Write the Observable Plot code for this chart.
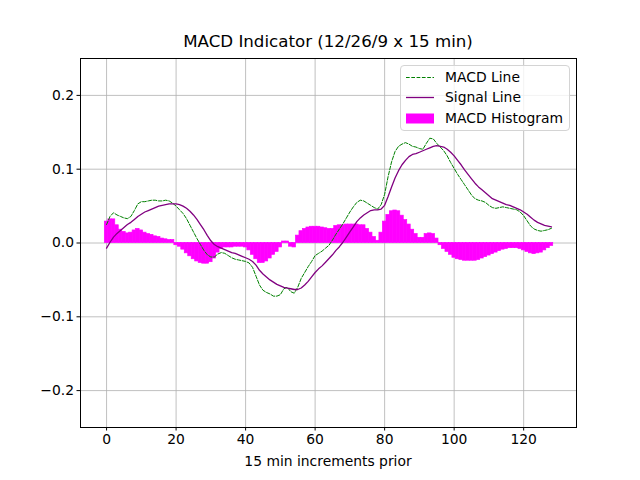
<!DOCTYPE html>
<html><head><meta charset="utf-8">
<script src="https://cdn.jsdelivr.net/npm/d3@7"></script>
<script src="https://cdn.jsdelivr.net/npm/@observablehq/plot@0.6"></script>
<style>
body{margin:0;background:#fff;font-family:"DejaVu Sans",sans-serif;}
#wrap{position:relative;width:640px;height:480px;}
#title{position:absolute;top:32px;left:80px;width:496px;text-align:center;font-size:16.67px;line-height:20px;}
#xlabel{position:absolute;top:453px;left:80px;width:496px;text-align:center;font-size:13.89px;line-height:17px;}
#legend{position:absolute;left:400px;top:65px;width:170px;height:66px;border:1px solid #d4d4d4;border-radius:4px;background:rgba(255,255,255,0.8);box-sizing:border-box;font-size:13.89px;}
.row{position:absolute;left:5px;height:17px;line-height:17px;white-space:nowrap;}
.row svg{position:absolute;left:0;top:0;}
.row span{position:absolute;left:39px;top:0;}
</style></head><body>
<div id="wrap"><div id="chart"></div>
<div id="title">MACD Indicator (12/26/9 x 15 min)</div>
<div id="xlabel">15 min increments prior</div>
<div id="legend"></div>
</div>
<script>
const macd = [0.025,0.036,0.041,0.038,0.036,0.034,0.033,0.036,0.044,0.053,
0.056,0.056,0.057,0.058,0.058,0.057,0.057,0.058,0.057,0.054,
0.050,0.045,0.040,0.033,0.024,0.015,0.006,-0.002,-0.010,-0.016,
-0.019,-0.019,-0.015,-0.013,-0.014,-0.017,-0.020,-0.022,-0.023,-0.024,
-0.025,-0.027,-0.033,-0.045,-0.057,-0.064,-0.067,-0.069,-0.072,-0.072,
-0.070,-0.062,-0.060,-0.066,-0.068,-0.060,-0.048,-0.040,-0.032,-0.025,
-0.017,-0.014,-0.011,-0.007,-0.003,0.004,0.012,0.019,0.026,0.034,
0.042,0.049,0.055,0.058,0.057,0.054,0.051,0.048,0.046,0.052,
0.066,0.090,0.110,0.124,0.131,0.134,0.136,0.134,0.131,0.130,
0.128,0.127,0.135,0.142,0.141,0.135,0.130,0.125,0.118,0.109,
0.101,0.093,0.086,0.079,0.072,0.065,0.060,0.058,0.057,0.055,
0.051,0.048,0.047,0.048,0.049,0.048,0.047,0.046,0.045,0.042,
0.037,0.030,0.023,0.019,0.017,0.016,0.017,0.018,0.020];
const signal = [-0.007,0.001,0.008,0.013,0.017,0.021,0.025,0.028,0.032,0.036,
0.039,0.042,0.044,0.046,0.048,0.050,0.051,0.052,0.053,0.053,
0.053,0.052,0.050,0.047,0.043,0.038,0.032,0.025,0.018,0.010,
0.003,-0.002,-0.005,-0.007,-0.009,-0.011,-0.013,-0.014,-0.016,-0.018,
-0.020,-0.022,-0.025,-0.030,-0.037,-0.042,-0.046,-0.050,-0.053,-0.056,
-0.058,-0.060,-0.061,-0.062,-0.063,-0.063,-0.061,-0.057,-0.052,-0.046,
-0.040,-0.035,-0.031,-0.026,-0.021,-0.016,-0.010,-0.005,0.001,0.008,
0.015,0.022,0.029,0.034,0.038,0.041,0.044,0.045,0.045,0.046,
0.051,0.063,0.076,0.088,0.098,0.106,0.112,0.117,0.120,0.121,
0.123,0.125,0.127,0.129,0.131,0.132,0.131,0.130,0.127,0.123,
0.118,0.112,0.106,0.099,0.093,0.087,0.081,0.076,0.072,0.068,
0.064,0.060,0.058,0.056,0.054,0.052,0.051,0.049,0.047,0.045,
0.042,0.039,0.035,0.031,0.028,0.026,0.024,0.023,0.022];
const hist = [0.029,0.032,0.032,0.024,0.018,0.015,0.013,0.014,0.017,0.019,
0.017,0.014,0.012,0.011,0.009,0.008,0.006,0.005,0.004,0.004,
-0.003,-0.005,-0.009,-0.014,-0.018,-0.022,-0.025,-0.027,-0.028,-0.028,
-0.026,-0.021,-0.013,-0.008,-0.006,-0.006,-0.006,-0.005,-0.005,-0.005,
-0.006,-0.010,-0.016,-0.022,-0.027,-0.027,-0.025,-0.021,-0.016,-0.012,
-0.006,0.002,0.002,-0.005,-0.006,0.010,0.016,0.019,0.021,0.022,
0.022,0.022,0.021,0.020,0.019,0.019,0.023,0.024,0.024,0.025,
0.025,0.025,0.025,0.024,0.024,0.019,0.014,0.008,0.003,0.014,
0.029,0.038,0.043,0.044,0.043,0.037,0.031,0.025,0.018,0.012,
0.007,0.007,0.012,0.013,0.012,0.006,-0.003,-0.008,-0.012,-0.016,
-0.020,-0.022,-0.023,-0.024,-0.024,-0.024,-0.024,-0.023,-0.021,-0.019,
-0.017,-0.015,-0.013,-0.011,-0.009,-0.008,-0.007,-0.007,-0.007,-0.008,
-0.010,-0.012,-0.014,-0.015,-0.014,-0.013,-0.010,-0.007,-0.004];
const xTicks = [0,20,40,60,80,100,120];
const yTicks = [-0.2,-0.1,0.0,0.1,0.2];
const legendItems = [
  {label:"MACD Line", kind:"dash", color:"green"},
  {label:"Signal Line", kind:"line", color:"purple"},
  {label:"MACD Histogram", kind:"patch", color:"magenta"}
];

const grid = "#b0b0b0";
const chart = Plot.plot({
  width: 640, height: 480,
  marginLeft: 80, marginRight: 64, marginTop: 58, marginBottom: 53,
  style: {fontFamily: "DejaVu Sans", fontSize: "13.89px", color: "black", background: "white"},
  x: {domain: [-7.5, 135.2]},
  y: {domain: [-0.25, 0.25]},
  marks: [
    Plot.gridX(xTicks, {stroke: grid, strokeOpacity: 1, strokeWidth: 0.8}),
    Plot.gridY(yTicks, {stroke: grid, strokeOpacity: 1, strokeWidth: 0.8}),
    Plot.rectY(hist, {x1: (d, i) => i - 0.5, x2: (d, i) => i + 0.5, y: d => d, fill: "magenta", stroke: "magenta", strokeWidth: 0.7}),
    Plot.lineY(macd, {x: (d, i) => i, y: d => d, stroke: "green", strokeWidth: 1, strokeDasharray: "3.7,1.6"}),
    Plot.lineY(signal, {x: (d, i) => i, y: d => d, stroke: "purple", strokeWidth: 1.3}),
    Plot.axisX(xTicks, {tickSize: 3.5, tickPadding: 3, label: null, fontSize: 13.89}),
    Plot.axisY(yTicks, {tickSize: 3.5, tickPadding: 3, label: null, tickFormat: d3.format(".1f"), fontSize: 13.89}),
    Plot.frame({stroke: "black", strokeWidth: 1})
  ]
});
document.getElementById("chart").appendChild(chart);

const lg = document.getElementById("legend");
legendItems.forEach((it, k) => {
  const row = document.createElement("div");
  row.className = "row";
  row.style.top = (2.5 + k * 20.7) + "px";
  let handle;
  if (it.kind === "patch") handle = `<rect x="0" y="3.5" width="28" height="10" fill="${it.color}"/>`;
  else handle = `<line x1="0" x2="28" y1="8.5" y2="8.5" stroke="${it.color}" stroke-width="${it.kind==="dash"?1:1.3}" ${it.kind==="dash"?'stroke-dasharray="3.7,1.6"':''}/>`;
  row.innerHTML = `<svg width="30" height="17">${handle}</svg><span>${it.label}</span>`;
  lg.appendChild(row);
});
</script>
</body></html>
